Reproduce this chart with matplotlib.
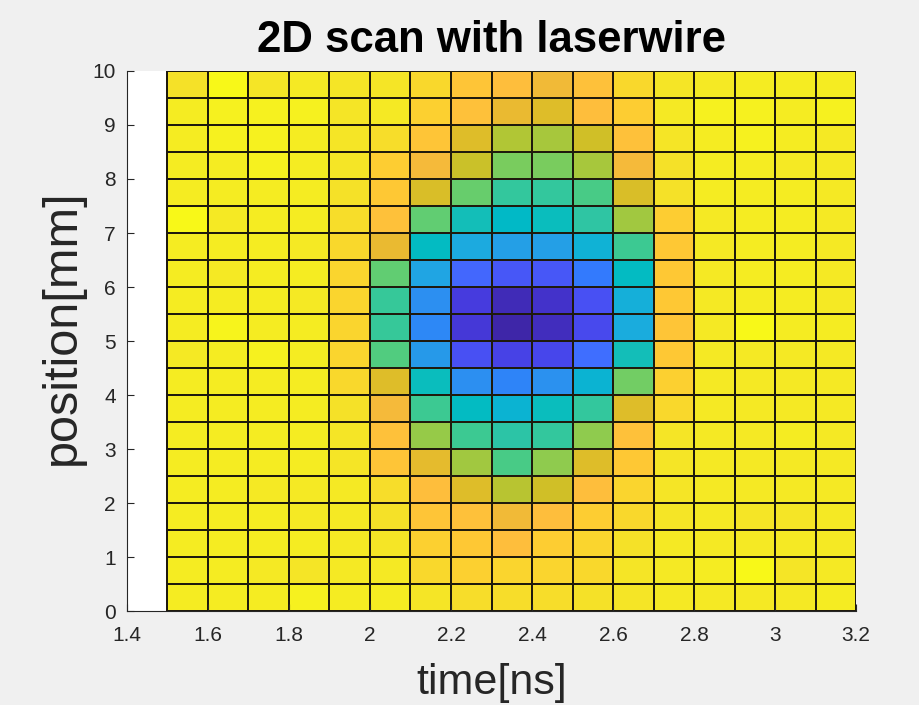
import numpy as np
import matplotlib
matplotlib.use("Agg")
import matplotlib.pyplot as plt
from matplotlib.colors import LinearSegmentedColormap

# Scan grid: cell edges in time (ns) and position (mm)
time_edges = [1.5, 1.6, 1.7, 1.8, 1.9, 2.0, 2.1, 2.2, 2.3, 2.4, 2.5,
              2.6, 2.7, 2.8, 2.9, 3.0, 3.1, 3.2]
position_edges = [0.0, 0.5, 1.0, 1.5, 2.0, 2.5, 3.0, 3.5, 4.0, 4.5, 5.0,
                  5.5, 6.0, 6.5, 7.0, 7.5, 8.0, 8.5, 9.0, 9.5, 10.0]

# Normalised detector signal, one row per position step (top row = 9.5-10 mm)
signal_rows_top_down = [
    [0.93, 0.99, 0.94, 0.95, 0.94, 0.94, 0.91, 0.86, 0.84, 0.81, 0.85, 0.91, 0.94, 0.95, 0.96, 0.96, 0.96],
    [0.96, 0.97, 0.97, 0.97, 0.94, 0.95, 0.89, 0.85, 0.80, 0.78, 0.84, 0.88, 0.95, 0.97, 0.97, 0.96, 0.97],
    [0.96, 0.97, 0.97, 0.96, 0.94, 0.92, 0.86, 0.78, 0.72, 0.71, 0.76, 0.85, 0.94, 0.96, 0.97, 0.96, 0.95],
    [0.96, 0.96, 0.97, 0.96, 0.94, 0.88, 0.82, 0.75, 0.66, 0.66, 0.71, 0.82, 0.93, 0.96, 0.96, 0.95, 0.95],
    [0.96, 0.96, 0.96, 0.96, 0.93, 0.87, 0.77, 0.64, 0.56, 0.56, 0.60, 0.77, 0.93, 0.96, 0.96, 0.96, 0.95],
    [0.99, 0.95, 0.96, 0.96, 0.92, 0.85, 0.63, 0.50, 0.47, 0.49, 0.55, 0.70, 0.88, 0.95, 0.96, 0.96, 0.95],
    [0.96, 0.96, 0.96, 0.95, 0.91, 0.80, 0.48, 0.40, 0.36, 0.36, 0.43, 0.58, 0.87, 0.95, 0.96, 0.96, 0.95],
    [0.96, 0.95, 0.96, 0.96, 0.90, 0.63, 0.38, 0.20, 0.16, 0.16, 0.25, 0.48, 0.87, 0.95, 0.96, 0.96, 0.95],
    [0.96, 0.96, 0.96, 0.95, 0.90, 0.57, 0.31, 0.08, 0.02, 0.05, 0.14, 0.42, 0.87, 0.95, 0.96, 0.96, 0.95],
    [0.96, 0.98, 0.96, 0.96, 0.90, 0.57, 0.29, 0.07, 0.00, 0.03, 0.12, 0.41, 0.86, 0.95, 0.99, 0.96, 0.96],
    [0.95, 0.96, 0.97, 0.96, 0.90, 0.61, 0.34, 0.14, 0.10, 0.11, 0.22, 0.50, 0.87, 0.95, 0.95, 0.95, 0.95],
    [0.96, 0.96, 0.96, 0.96, 0.91, 0.78, 0.49, 0.31, 0.28, 0.32, 0.44, 0.65, 0.89, 0.95, 0.95, 0.95, 0.95],
    [0.96, 0.96, 0.96, 0.96, 0.93, 0.82, 0.58, 0.48, 0.44, 0.49, 0.56, 0.78, 0.91, 0.95, 0.95, 0.95, 0.95],
    [0.96, 0.96, 0.96, 0.96, 0.94, 0.85, 0.69, 0.58, 0.54, 0.56, 0.68, 0.85, 0.94, 0.95, 0.95, 0.96, 0.95],
    [0.96, 0.96, 0.96, 0.96, 0.94, 0.86, 0.79, 0.70, 0.60, 0.68, 0.78, 0.87, 0.94, 0.95, 0.95, 0.95, 0.95],
    [0.96, 0.96, 0.95, 0.95, 0.95, 0.92, 0.84, 0.78, 0.73, 0.76, 0.84, 0.90, 0.94, 0.95, 0.95, 0.95, 0.95],
    [0.96, 0.96, 0.96, 0.95, 0.95, 0.93, 0.86, 0.85, 0.81, 0.84, 0.88, 0.91, 0.94, 0.95, 0.94, 0.94, 0.95],
    [0.96, 0.96, 0.96, 0.96, 0.95, 0.94, 0.89, 0.87, 0.84, 0.88, 0.90, 0.93, 0.95, 0.95, 0.95, 0.95, 0.95],
    [0.96, 0.96, 0.95, 0.94, 0.95, 0.95, 0.91, 0.89, 0.90, 0.90, 0.91, 0.94, 0.95, 0.96, 0.99, 0.94, 0.95],
    [0.96, 0.96, 0.96, 0.97, 0.96, 0.96, 0.94, 0.92, 0.92, 0.92, 0.93, 0.94, 0.95, 0.95, 0.95, 0.95, 0.96],
]

x_ticks = [1.4, 1.6, 1.8, 2.0, 2.2, 2.4, 2.6, 2.8, 3.0, 3.2]
y_ticks = [0, 1, 2, 3, 4, 5, 6, 7, 8, 9, 10]

# Parula colour table (64 entries)
parula_rgb = [
    (0.2422, 0.1504, 0.6603), (0.2504, 0.1650, 0.7076), (0.2578, 0.1818, 0.7511), (0.2647, 0.1978, 0.7952),
    (0.2706, 0.2147, 0.8364), (0.2751, 0.2342, 0.8710), (0.2783, 0.2559, 0.8991), (0.2803, 0.2782, 0.9221),
    (0.2813, 0.3006, 0.9414), (0.2810, 0.3228, 0.9579), (0.2795, 0.3447, 0.9717), (0.2760, 0.3667, 0.9829),
    (0.2699, 0.3892, 0.9906), (0.2602, 0.4123, 0.9952), (0.2440, 0.4358, 0.9988), (0.2206, 0.4603, 0.9973),
    (0.1963, 0.4847, 0.9892), (0.1834, 0.5074, 0.9798), (0.1786, 0.5289, 0.9682), (0.1764, 0.5499, 0.9520),
    (0.1687, 0.5703, 0.9359), (0.1540, 0.5902, 0.9218), (0.1460, 0.6091, 0.9079), (0.1380, 0.6276, 0.8973),
    (0.1248, 0.6459, 0.8883), (0.1113, 0.6635, 0.8763), (0.0952, 0.6798, 0.8598), (0.0689, 0.6948, 0.8394),
    (0.0297, 0.7082, 0.8163), (0.0036, 0.7203, 0.7917), (0.0067, 0.7312, 0.7660), (0.0433, 0.7411, 0.7394),
    (0.0964, 0.7500, 0.7120), (0.1408, 0.7584, 0.6842), (0.1717, 0.7670, 0.6554), (0.1938, 0.7758, 0.6251),
    (0.2161, 0.7843, 0.5923), (0.2470, 0.7918, 0.5567), (0.2906, 0.7973, 0.5188), (0.3406, 0.8008, 0.4789),
    (0.3909, 0.8029, 0.4354), (0.4456, 0.8024, 0.3909), (0.5044, 0.7993, 0.3480), (0.5616, 0.7942, 0.3045),
    (0.6174, 0.7876, 0.2612), (0.6720, 0.7793, 0.2227), (0.7242, 0.7698, 0.1910), (0.7738, 0.7598, 0.1646),
    (0.8203, 0.7498, 0.1535), (0.8634, 0.7406, 0.1596), (0.9035, 0.7330, 0.1774), (0.9393, 0.7288, 0.2100),
    (0.9728, 0.7298, 0.2394), (0.9956, 0.7434, 0.2371), (0.9970, 0.7659, 0.2199), (0.9952, 0.7893, 0.2028),
    (0.9892, 0.8136, 0.1885), (0.9786, 0.8386, 0.1766), (0.9676, 0.8639, 0.1643), (0.9610, 0.8890, 0.1537),
    (0.9597, 0.9135, 0.1423), (0.9628, 0.9373, 0.1265), (0.9691, 0.9606, 0.1064), (0.9769, 0.9839, 0.0805),
]
parula = LinearSegmentedColormap.from_list("parula", parula_rgb)

plt.rcParams["font.family"] = ["Liberation Sans", "DejaVu Sans"]

fig = plt.figure(figsize=(9.2, 7.05), dpi=100, facecolor=(0.94, 0.94, 0.94))
ax = fig.add_axes([0.138, 0.1333, 0.7925, 0.766])
ax.set_facecolor("white")

signal = np.array(signal_rows_top_down)[::-1]  # bottom row first
ax.pcolormesh(time_edges, position_edges, signal, cmap=parula, vmin=0.0, vmax=1.0,
              edgecolors=(0.12, 0.1, 0.05), linewidth=1.1, zorder=1)

ax.set_xlim(1.4, 3.2)
ax.set_ylim(0, 10)
ax.set_xticks(x_ticks)
ax.set_xticklabels([f"{v:g}" for v in x_ticks])
ax.set_yticks(y_ticks)
ax.set_yticklabels([f"{v:g}" for v in y_ticks])

axis_color = (0.15, 0.15, 0.15)
for side in ("top", "right"):
    ax.spines[side].set_visible(False)
for side in ("left", "bottom"):
    ax.spines[side].set_color(axis_color)
    ax.spines[side].set_linewidth(0.8)
    ax.spines[side].set_zorder(0.5)
ax.tick_params(direction="in", length=5, width=0.8, color=axis_color,
               labelcolor=axis_color, labelsize=15)
ax.tick_params(axis="x", pad=11)
ax.tick_params(axis="y", pad=8)

ax.set_title("2D scan with laserwire", fontsize=31.5, fontweight="bold", pad=14)
ax.set_xlabel("time[ns]", fontsize=31, color=axis_color, labelpad=13)
ax.set_ylabel("position[mm]", fontsize=35, color=axis_color)
ax.yaxis.set_label_coords(-0.058, 0.525)

fig.savefig("out.png", dpi=100, facecolor=fig.get_facecolor())
